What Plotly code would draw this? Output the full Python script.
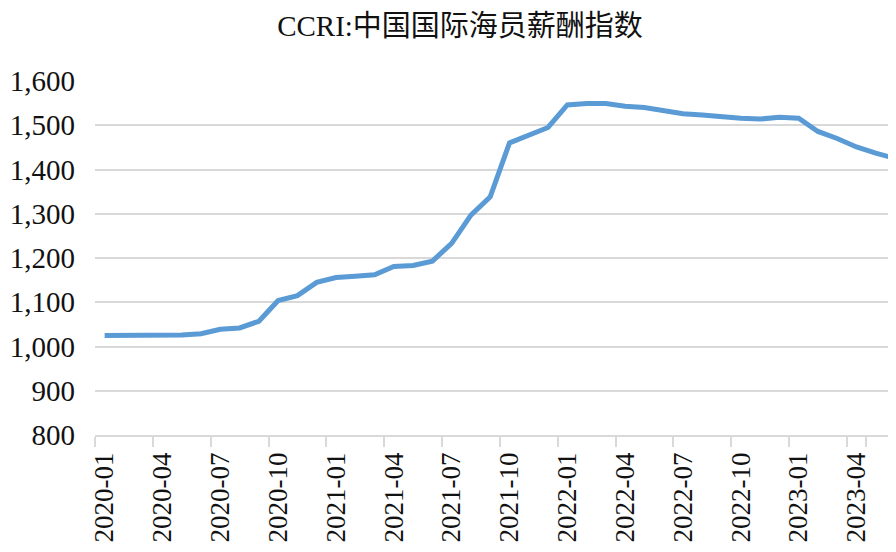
import plotly.graph_objects as go

months = [
    "2020-01","2020-02","2020-03","2020-04","2020-05","2020-06","2020-07","2020-08","2020-09","2020-10","2020-11","2020-12",
    "2021-01","2021-02","2021-03","2021-04","2021-05","2021-06","2021-07","2021-08","2021-09","2021-10","2021-11","2021-12",
    "2022-01","2022-02","2022-03","2022-04","2022-05","2022-06","2022-07","2022-08","2022-09","2022-10","2022-11","2022-12",
    "2023-01","2023-02","2023-03","2023-04","2023-05","2023-06",
]
ccri = [
    1025, 1025, 1025, 1026, 1026, 1029, 1039, 1042, 1057, 1104, 1115, 1145,
    1156, 1159, 1162, 1181, 1183, 1193, 1233, 1297, 1338, 1460, 1478, 1495,
    1546, 1549, 1549, 1543, 1540, 1533, 1526, 1523, 1519, 1516, 1514, 1518,
    1516, 1486, 1470, 1451, 1437, 1425,
]

tick_labels = months[::3]
title_text = "CCRI:中国国际海员薪酬指数"

font_main = "Liberation Serif, Noto Sans CJK SC"

fig = go.Figure()
fig.add_trace(go.Scatter(
    x=months, y=ccri, mode="lines",
    line=dict(color="#5B9BD5", width=5),
    hoverinfo="x+y",
))

fig.update_layout(
    width=888, height=536,
    margin=dict(l=87, r=0, t=73, b=109),
    paper_bgcolor="white", plot_bgcolor="white",
    showlegend=False,
    title=dict(
        text=title_text,
        font=dict(family=font_main, size=29, color="#111111"),
        x=452/888, xanchor="center", xref="container",
        y=1-18/536, yanchor="middle", yref="container",
    ),
    font=dict(family=font_main, color="#111111"),
)

fig.update_xaxes(
    type="category",
    categoryorder="array", categoryarray=months,
    range=[-0.5, 41.05],
    tickmode="array", tickvals=tick_labels, ticktext=tick_labels,
    tickson="boundaries",
    ticks="outside", ticklen=10, tickwidth=1.5, tickcolor="#d9d9d9",
    tickangle=-90,
    ticklabelstandoff=5,
    tickfont=dict(size=27, family=font_main, color="#111111"),
    showgrid=False,
    showline=True, linecolor="#d9d9d9", linewidth=1.5,
    zeroline=False,
    automargin=False,
)

fig.update_yaxes(
    range=[800, 1600],
    tickmode="linear", tick0=800, dtick=100,
    tickformat=",",
    ticks="", ticklabelstandoff=19,
    tickfont=dict(size=29, family=font_main, color="#111111"),
    showgrid=True, gridcolor="#d9d9d9", gridwidth=1.5,
    showline=False, zeroline=False,
    automargin=False,
)

fig.write_html("out.html")
